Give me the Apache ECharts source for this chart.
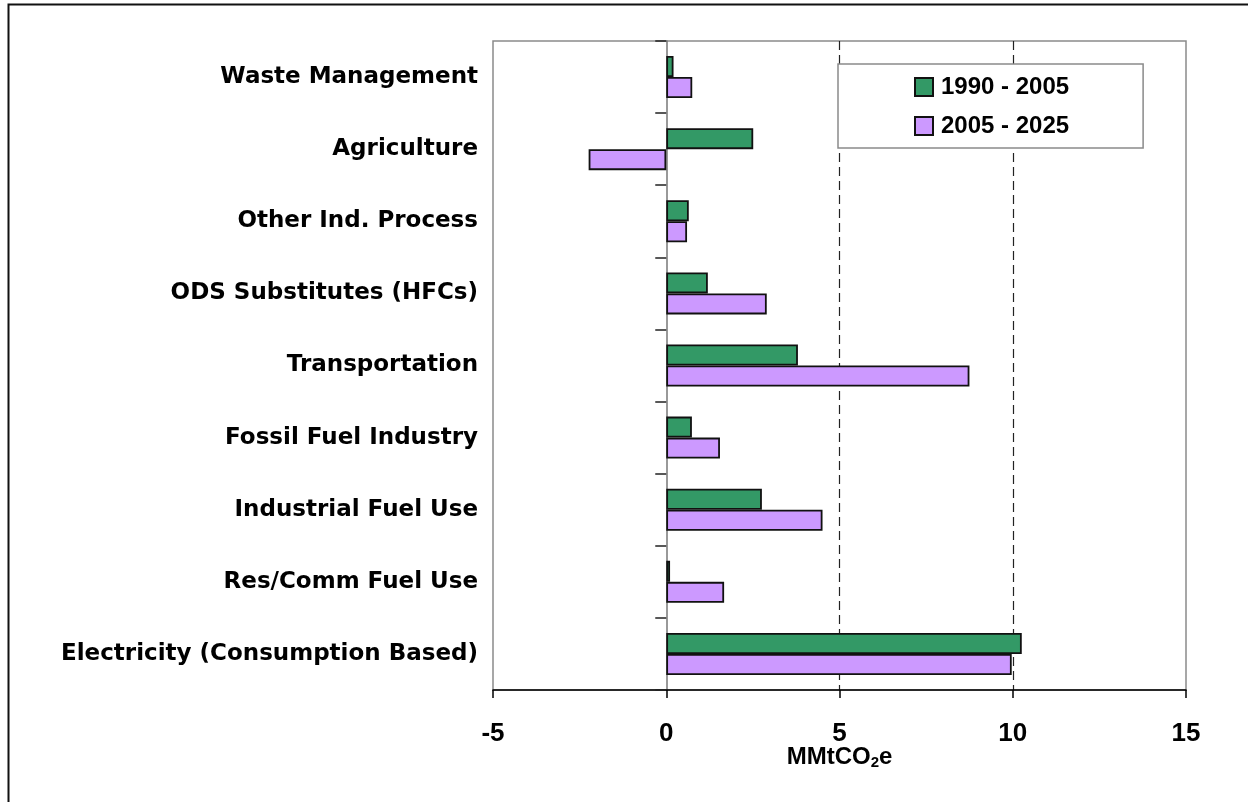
<!DOCTYPE html>
<html>
<head>
<meta charset="utf-8">
<script src="https://cdn.jsdelivr.net/npm/echarts@6/dist/echarts.min.js"></script>
<style>
html,body{margin:0;padding:0;background:#fff;}
#chart{width:1248px;height:802px;}
</style>
</head>
<body>
<div id="chart"></div>
<script>
const categories = ['Waste Management','Agriculture','Other Ind. Process','ODS Substitutes (HFCs)','Transportation','Fossil Fuel Industry','Industrial Fuel Use','Res/Comm Fuel Use','Electricity (Consumption Based)'];
const series1990_2005 = [0.21, 2.51, 0.65, 1.2, 3.8, 0.74, 2.76, 0.11, 10.26];
const series2005_2025 = [0.75, -2.24, 0.6, 2.9, 8.75, 1.55, 4.51, 1.67, 9.97];
const seriesNames = ['1990 - 2005', '2005 - 2025'];
const xTicks = {min: -5, max: 15, interval: 5};

const chart = echarts.init(document.getElementById('chart'), null, {renderer: 'canvas'});
const labelFont = 'Liberation Sans, Arial, sans-serif';
chart.setOption({
  backgroundColor: '#fff',
  animation: false,
  graphic: [{
    type: 'rect', left: 6, top: 2, z: -10,
    shape: {width: 1300, height: 900},
    style: {fill: 'none', stroke: '#111', lineWidth: 2}
  }],
  grid: {left: 493, right: 62, top: 41, bottom: 112, containLabel: false, outerBoundsMode: 'none',
         show: true, borderColor: '#8a8a8a', borderWidth: 1.5, backgroundColor: 'transparent'},
  legend: {
    left: 838, top: 64, orient: 'vertical',
    backgroundColor: '#fff', borderColor: '#8a8a8a', borderWidth: 1.5,
    padding: [11, 74, 10, 76], itemGap: 15, itemWidth: 18, itemHeight: 18,
    icon: 'rect',
    textStyle: {fontFamily: labelFont, fontWeight: 'bold', fontSize: 24, color: '#000', padding: [0, 0, 0, 3]},
    data: seriesNames
  },
  xAxis: {
    type: 'value', min: xTicks.min, max: xTicks.max, interval: xTicks.interval,
    axisLine: {show: true, lineStyle: {color: '#000', width: 1.5}},
    axisTick: {show: true, length: 8, lineStyle: {color: '#000', width: 1.5}},
    axisLabel: {fontFamily: labelFont, fontWeight: 'bold', fontSize: 26, color: '#000', margin: 31},
    splitLine: {show: true, lineStyle: {color: ['rgba(0,0,0,0)', 'rgba(0,0,0,0)', '#222', '#222', 'rgba(0,0,0,0)'], type: [9, 5], width: 1.2}},
    name: '{m|MMtCO}{s|2}{m|e}',
    nameLocation: 'middle', nameGap: 54, nameMoveOverlap: false,
    nameTextStyle: {
      rich: {
        m: {fontFamily: labelFont, fontWeight: 'bold', fontSize: 24, color: '#000', lineHeight: 26},
        s: {fontFamily: labelFont, fontWeight: 'bold', fontSize: 15, color: '#000', lineHeight: 15, verticalAlign: 'bottom'}
      }
    }
  },
  yAxis: {
    type: 'category', inverse: true, data: categories,
    axisLine: {show: true, onZero: true, lineStyle: {color: '#777', width: 1.5}},
    axisTick: {show: true, length: 11, lineStyle: {color: '#222', width: 1.5}},
    axisLabel: {fontFamily: 'DejaVu Sans, sans-serif', fontWeight: 'bold', fontSize: 23, color: '#000', margin: 15},
    splitLine: {show: false}
  },
  series: [
    {name: seriesNames[0], type: 'bar', data: series1990_2005, barWidth: 21, barGap: '0%',
     itemStyle: {color: '#339966', borderColor: '#111', borderWidth: 1.8}},
    {name: seriesNames[1], type: 'bar', data: series2005_2025, barWidth: 21, barGap: '0%',
     itemStyle: {color: '#CC99FF', borderColor: '#111', borderWidth: 1.8}}
  ]
});
</script>
</body>
</html>
